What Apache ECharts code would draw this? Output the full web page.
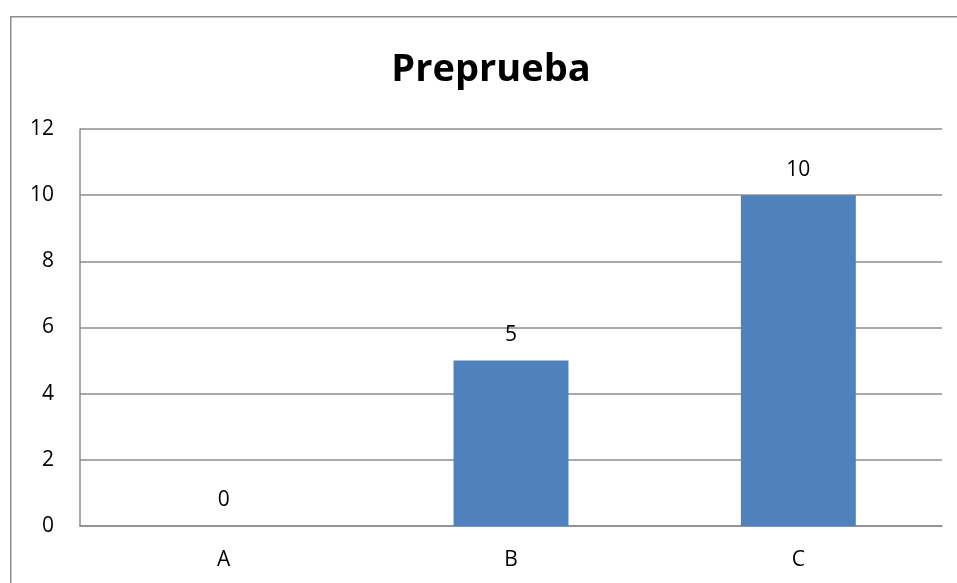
<!DOCTYPE html>
<html>
<head>
<meta charset="utf-8">
<script src="https://cdn.jsdelivr.net/npm/echarts@6/dist/echarts.min.js"></script>
<style>html,body{margin:0;padding:0;background:#fff}#c{width:957px;height:583px}</style>
</head>
<body>
<div id="c"></div>
<script>
var categories = ['A', 'B', 'C'];
var values = [0, 5, 10];
var titleText = 'Preprueba';

var chart = echarts.init(document.getElementById('c'));
chart.setOption({
  animation: false,
  graphic: [{
    type: 'rect', left: 10, top: 16, z: -1,
    shape: { width: 1000, height: 1000 },
    style: { fill: '#fff', stroke: '#8c8c8c', lineWidth: 1.5 }
  }],
  title: {
    text: titleText, left: 486, textAlign: 'center', top: 46,
    textStyle: { fontFamily: 'Open Sans', fontWeight: 'bold', fontSize: 38, color: '#000' }
  },
  grid: { left: 80, right: 15, top: 129, bottom: 57 },
  xAxis: {
    type: 'category', data: categories,
    axisLine: { lineStyle: { color: '#8c8c8c', width: 1.5 } },
    axisTick: { show: false },
    axisLabel: { color: '#000', fontFamily: 'Open Sans', fontSize: 21, margin: 24 }
  },
  yAxis: {
    type: 'value', min: 0, max: 12, interval: 2,
    axisLine: { show: true, lineStyle: { color: '#8c8c8c', width: 1.5 } },
    axisTick: { show: false },
    splitLine: { lineStyle: { color: '#8c8c8c', width: 1.5 } },
    axisLabel: { color: '#000', fontFamily: 'Open Sans', fontSize: 21, margin: 26 }
  },
  series: [{
    type: 'bar', data: values, barWidth: '40%',
    itemStyle: { color: '#4f81bd' },
    label: { show: true, position: 'top', distance: 15, color: '#000', fontFamily: 'Open Sans', fontSize: 21 }
  }]
});
</script>
</body>
</html>
